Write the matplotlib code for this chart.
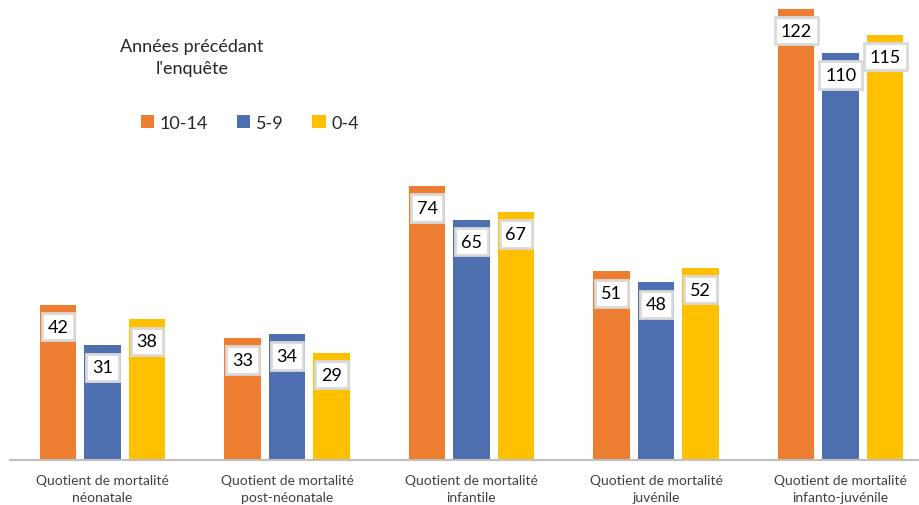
import numpy as np
import matplotlib
matplotlib.use('Agg')
import matplotlib.pyplot as plt
from matplotlib.patches import Patch

plt.rcParams['font.family'] = ['Lato', 'DejaVu Sans']

categories = ['Quotient de mortalité\nnéonatale', 'Quotient de mortalité\npost-néonatale',
              'Quotient de mortalité\ninfantile', 'Quotient de mortalité\njuvénile',
              'Quotient de mortalité\ninfanto-juvénile']
series = ['10-14', '5-9', '0-4']
v_10_14 = [42, 33, 74, 51, 122]
v_5_9 = [31, 34, 65, 48, 110]
v_0_4 = [38, 29, 67, 52, 115]
values = [v_10_14, v_5_9, v_0_4]
clr = ['#ED7D31', '#4E70B0', '#FFC000']

fig = plt.figure(figsize=(9.2, 5.06), dpi=100)
ax = fig.add_axes([0.011, 45/506, 0.989, 461/506])

x = np.arange(len(categories))
w = 0.198
step = 0.241
for n, vals in enumerate(values):
    xs = x + (n - 1)*step
    ax.bar(xs, vals, width=w, color=clr[n], edgecolor='none', zorder=2)
    for xi, v in zip(xs, vals):
        ax.annotate(str(v), xy=(xi, v), xytext=(0, -22), textcoords='offset pixels',
                    ha='center', va='center', fontsize=13, color='black', zorder=3,
                    bbox=dict(boxstyle='square,pad=0.32', fc='white', ec='#d9d9d9', lw=2))

ax.set_ylim(0, 124.6)
ax.set_xlim(-0.5, 4.43)
for s in ['top', 'right', 'left']:
    ax.spines[s].set_visible(False)
ax.spines['bottom'].set_color('#bfbfbf')
ax.spines['bottom'].set_linewidth(1.5)
ax.set_yticks([])
ax.set_xticks(x)
ax.set_xticklabels(categories, fontsize=10, color='#404040', linespacing=1.5)
ax.tick_params(axis='x', length=0, pad=10)

fig.text(192/920, 1 - 58/506, "Années précédant\nl'enquête", ha='center', va='center',
         fontsize=13, color='#262626', linespacing=1.5)
handles = [Patch(facecolor=c, edgecolor='none') for c in clr]
fig.legend(handles, series, loc='center left', bbox_to_anchor=(128/920, 1 - 124/506),
           ncol=3, frameon=False, fontsize=13, handlelength=0.75, handleheight=0.75,
           handletextpad=0.3, columnspacing=1.6, borderpad=0.2, labelcolor='#262626')

plt.savefig('out.png', dpi=100)
plt.close()
